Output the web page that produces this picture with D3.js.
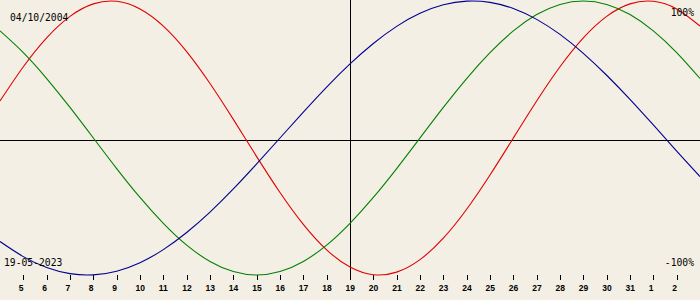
<!DOCTYPE html>
<html>
<head>
<meta charset="utf-8">
<script src="https://cdn.jsdelivr.net/npm/d3@7"></script>
<style>
  html, body { margin: 0; padding: 0; background: #f3efe4; }
  svg { display: block; }
</style>
</head>
<body>
<svg id="chart" width="700" height="300"></svg>
<script>
// Days shown (4 May .. 3 June 2023), ticks on 5 May .. 2 June
const days = [4,5,6,7,8,9,10,11,12,13,14,15,16,17,18,19,20,21,22,23,24,25,26,27,28,29,30,31,32,33,34];
const tickDays = [5,6,7,8,9,10,11,12,13,14,15,16,17,18,19,20,21,22,23,24,25,26,27,28,29,30,31,32,33];
const tickLabels = ["5","6","7","8","9","10","11","12","13","14","15","16","17","18","19","20","21","22","23","24","25","26","27","28","29","30","31","1","2"];
const currentDay = 19;
const birthLabel = "04/10/2004";
const dateLabel = "19-05-2023";
const topLabel = "100%";
const bottomLabel = "-100%";

// Physical (red)
const physical = [0.270,0.520,0.731,0.888,0.979,0.998,0.942,0.817,0.631,0.398,0.136,-0.136,-0.398,-0.631,-0.817,-0.942,-0.998,-0.979,-0.888,-0.731,-0.520,-0.270,0.000,0.270,0.520,0.731,0.888,0.979,0.998,0.942,0.817];
// Emotional (green)
const emotional = [0.782,0.623,0.434,0.223,0.000,-0.223,-0.434,-0.623,-0.782,-0.901,-0.975,-1.000,-0.975,-0.901,-0.782,-0.623,-0.434,-0.223,0.000,0.223,0.434,0.623,0.782,0.901,0.975,1.000,0.975,0.901,0.782,0.623,0.434];
// Intellectual (blue)
const intellectual = [-0.756,-0.866,-0.945,-0.990,-0.999,-0.972,-0.910,-0.815,-0.690,-0.541,-0.372,-0.189,0.000,0.189,0.372,0.541,0.690,0.815,0.910,0.972,0.999,0.990,0.945,0.866,0.756,0.618,0.458,0.282,0.095,-0.095,-0.282];

const W = 700, H = 300;
const svg = d3.select("#chart");

const x = d3.scaleLinear().domain([4, 34]).range([0, 700]);
const y = d3.scaleLinear().domain([-1, 1]).range([275, 1]);

// axes lines
svg.append("line")
  .attr("x1", 0).attr("x2", W)
  .attr("y1", 140.5).attr("y2", 140.5)
  .attr("stroke", "#000").attr("stroke-width", 1)
  .attr("shape-rendering", "crispEdges");
svg.append("line")
  .attr("x1", Math.floor(x(currentDay)) + 0.5).attr("x2", Math.floor(x(currentDay)) + 0.5)
  .attr("y1", 0).attr("y2", 280)
  .attr("stroke", "#000").attr("stroke-width", 1)
  .attr("shape-rendering", "crispEdges");

// ticks
const axis = d3.axisBottom(x)
  .tickValues(tickDays)
  .tickSize(5)
  .tickFormat((d, i) => tickLabels[i]);
const gAxis = svg.append("g").attr("transform", "translate(0,275)").call(axis);
gAxis.select(".domain").remove();
gAxis.selectAll(".tick line").attr("stroke", "#000").attr("shape-rendering", "crispEdges");
gAxis.selectAll(".tick text")
  .attr("fill", "#000")
  .attr("text-anchor", "start")
  .attr("x", -5)
  .attr("y", 16)
  .attr("dy", null)
  .style("font-family", "'Liberation Sans', Arial, sans-serif")
  .style("font-weight", "bold")
  .style("font-size", "8.5px");

// curves
const series = [
  { name: "Physical", values: physical, color: "#e00000" },
  { name: "Emotional", values: emotional, color: "#008000" },
  { name: "Intellectual", values: intellectual, color: "#000090" }
];
const line = d3.line()
  .x((d, i) => x(days[i]))
  .y(d => y(d))
  .curve(d3.curveNatural);
svg.selectAll("path.curve")
  .data(series)
  .join("path")
  .attr("class", "curve")
  .attr("d", d => line(d.values))
  .attr("fill", "none")
  .attr("stroke", d => d.color)
  .attr("stroke-width", 1.1);

// labels
const font = "'DejaVu Sans Mono', monospace";
function label(t, xx, yy, anchor) {
  svg.append("text").text(t)
    .attr("x", xx).attr("y", yy)
    .attr("text-anchor", anchor)
    .style("font-family", font)
    .style("font-size", "9.7px")
    .attr("fill", "#000");
}
label(birthLabel, 10, 20.5, "start");
label(dateLabel, 4, 266, "start");
label(topLabel, 694, 16, "end");
label(bottomLabel, 694, 266, "end");
</script>
</body>
</html>
